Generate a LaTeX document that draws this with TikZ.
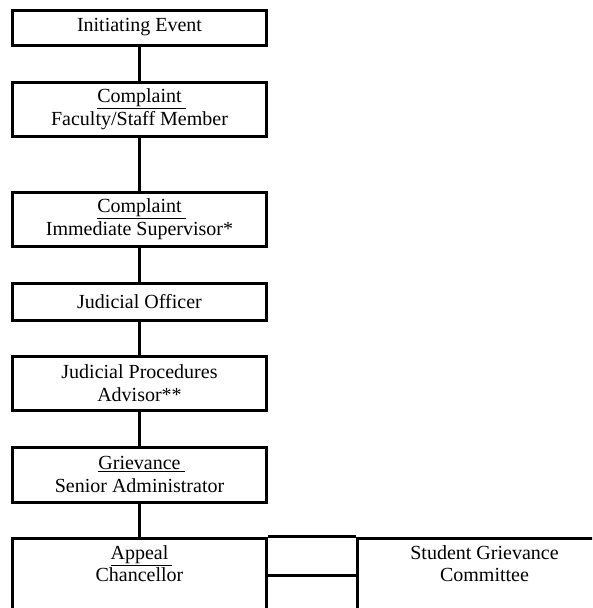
\documentclass[tikz,border=0pt]{standalone}
\usepackage{fontspec}
\setmainfont{Liberation Serif}
\usepackage{tikz}

\newcommand{\ulhead}[1]{\underline{#1\kern4pt}\kern-4pt}

\begin{document}
\begin{tikzpicture}[x=1pt,y=-1pt,
    box/.style={draw,line width=3pt,minimum width=254pt,inner sep=0pt,align=center,font=\fontsize{20}{22.5}\selectfont},
    link/.style={line width=3pt}]
    \useasboundingbox (0,0) rectangle (592,608);
    \clip (0,0) rectangle (592,608);
    % Chain
    \node[box,minimum height=35pt] (event) at (139.5,27.5) {Initiating Event};
    \node[box,minimum height=54pt] (staff) at (139.5,109) {\ulhead{Complaint}\\Faculty/Staff Member};
    \node[box,minimum height=54pt] (supervisor) at (139.5,219) {\ulhead{Complaint}\\Immediate Supervisor*};
    \node[box,minimum height=37pt] (officer) at (139.5,301.5) {Judicial Officer};
    \node[box,minimum height=54pt] (advisor) at (139.5,383) {Judicial Procedures\\Advisor**};
    \node[box,minimum height=55pt] (senior) at (139.5,474.5) {\ulhead{Grievance}\\Senior Administrator};
    \draw[link] (event) -- (staff);
    \draw[link] (staff) -- (supervisor);
    \draw[link] (supervisor) -- (officer);
    \draw[link] (officer) -- (advisor);
    \draw[link] (advisor) -- (senior);

    % Appeal
    \node[box,minimum height=74pt] (appeal) at (139.5,575) {\ulhead{Appeal}\\Chancellor\\\mbox{}};
    \node[box,minimum height=74pt] (committee) at (484.5,575) {Student Grievance\\Committee\\\mbox{}};
    \draw[link] (senior) -- (appeal);
    \draw[link] (appeal.north east) -- (committee.north west);
    \draw[link] (appeal) -- (committee);
\end{tikzpicture}
\end{document}
